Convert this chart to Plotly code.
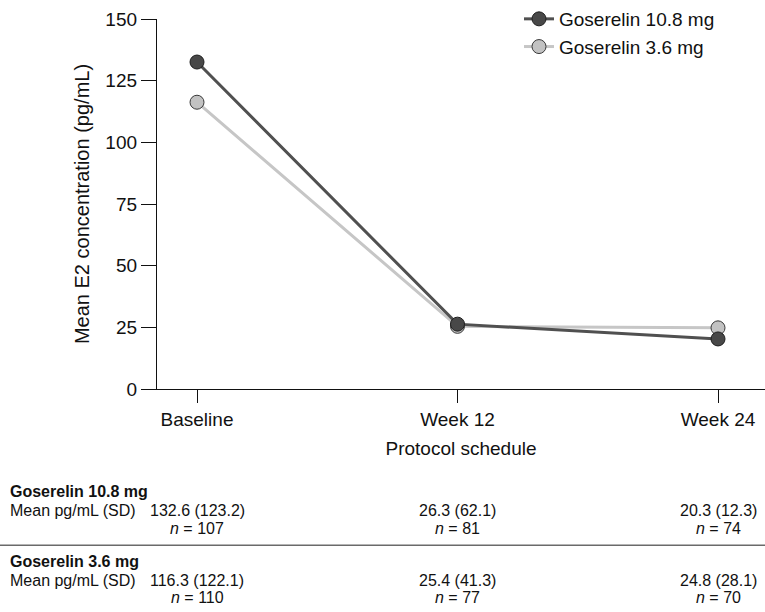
import plotly.graph_objects as go

categories = ["Baseline", "Week 12", "Week 24"]
series_names = ["Goserelin 10.8 mg", "Goserelin 3.6 mg"]
mean_108 = [132.6, 26.3, 20.3]
mean_36 = [116.3, 25.4, 24.8]
sd_108 = [123.2, 62.1, 12.3]
sd_36 = [122.1, 41.3, 28.1]
n_108 = [107, 81, 74]
n_36 = [110, 77, 70]
y_ticks = [0, 25, 50, 75, 100, 125, 150]

FONT = "Liberation Sans, Arial, Helvetica, sans-serif"
W, H = 765, 612
ML, MR, MT, MB = 157, 0, 10, 223
PH = H - MT - MB  # plot height in px
PW = W - ML - MR

def py(pix):
    """pixel y (from top) -> paper y"""
    return (H - MB - pix) / PH

def px(pix):
    return (pix - ML) / PW

xidx = list(range(len(categories)))

fig = go.Figure()
fig.add_trace(go.Scatter(
    x=xidx, y=mean_36, name=series_names[1], mode="lines+markers",
    line=dict(color="#c6c6c6", width=3),
    marker=dict(size=14, color="#c2c2c2", line=dict(color="#3a3a3a", width=1)),
))
fig.add_trace(go.Scatter(
    x=xidx, y=mean_108, name=series_names[0], mode="lines+markers",
    line=dict(color="#505050", width=3),
    marker=dict(size=14, color="#484848", line=dict(color="#1e1e1e", width=1)),
))

fig.update_layout(
    width=W, height=H,
    margin=dict(l=ML, r=MR, t=MT, b=MB, pad=0),
    paper_bgcolor="white", plot_bgcolor="white",
    font=dict(family=FONT, size=19, color="#111111"),
    showlegend=True,
    legend=dict(
        x=px(519), y=py(-10), xanchor="left", yanchor="top",
        traceorder="reversed", bgcolor="rgba(0,0,0,0)",
        font=dict(size=19), itemwidth=30, tracegroupgap=0,
    ),
    xaxis=dict(
        range=[(ML - 197) / 260.5, (W - 197) / 260.5],
        tickmode="array", tickvals=xidx, ticktext=categories,
        showgrid=False, zeroline=False,
        showline=True, linecolor="#111111", linewidth=1.3,
        ticks="outside", ticklen=13, tickwidth=1.3, tickcolor="#111111",
        title=dict(text="Protocol schedule", font=dict(size=19), standoff=12),
    ),
    yaxis=dict(
        range=[0, 150.05], tickmode="array", tickvals=y_ticks,
        showgrid=False, zeroline=False,
        showline=True, linecolor="#111111", linewidth=1.3,
        ticks="outside", ticklen=15, tickwidth=1.3, tickcolor="#111111",
        title=dict(text="Mean E2 concentration (pg/mL)", font=dict(size=20), standoff=10),
    ),
)

annotations = []
TF = dict(family=FONT, size=16, color="#111111")
groups = [
    (series_names[0], mean_108, sd_108, n_108, 494, 513, 532),
    (series_names[1], mean_36, sd_36, n_36, 566, 585, 603),
]
for name, means, sds, ns, y_head, y_mean, y_n in groups:
    annotations.append(dict(
        text="<b>" + name + "</b>", xref="paper", yref="paper",
        x=px(8), y=py(y_head), xanchor="left", yanchor="middle",
        showarrow=False, font=TF))
    annotations.append(dict(
        text="Mean pg/mL (SD)", xref="paper", yref="paper",
        x=px(8), y=py(y_mean), xanchor="left", yanchor="middle",
        showarrow=False, font=TF))
    for i in xidx:
        annotations.append(dict(
            text=f"{means[i]:.1f} ({sds[i]:.1f})", xref="x", yref="paper",
            x=i, y=py(y_mean), xanchor="center", yanchor="middle",
            showarrow=False, font=TF))
        annotations.append(dict(
            text=f"<i>n</i> = {ns[i]}", xref="x", yref="paper",
            x=i, y=py(y_n), xanchor="center", yanchor="middle",
            showarrow=False, font=TF))
fig.update_layout(annotations=annotations)

fig.add_shape(type="line", xref="paper", yref="paper",
              x0=px(0), x1=px(W), y0=py(549), y1=py(549),
              line=dict(color="#6a6a6a", width=1.5))

fig.write_html("out.html",
               config={"displayModeBar": False},
               post_script="document.body.style.margin='0';document.body.style.padding='0';")
